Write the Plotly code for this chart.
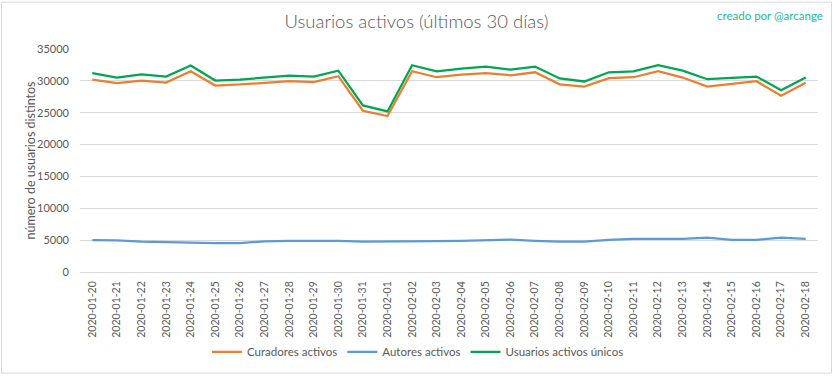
import plotly.graph_objects as go

fechas = [
    "2020-01-20", "2020-01-21", "2020-01-22", "2020-01-23", "2020-01-24", "2020-01-25",
    "2020-01-26", "2020-01-27", "2020-01-28", "2020-01-29", "2020-01-30", "2020-01-31",
    "2020-02-01", "2020-02-02", "2020-02-03", "2020-02-04", "2020-02-05", "2020-02-06",
    "2020-02-07", "2020-02-08", "2020-02-09", "2020-02-10", "2020-02-11", "2020-02-12",
    "2020-02-13", "2020-02-14", "2020-02-15", "2020-02-16", "2020-02-17", "2020-02-18",
]

curadores = [
    30200, 29640, 30050, 29740, 31510, 29270, 29430, 29640, 29950, 29790,
    30730, 25310, 24480, 31510, 30570, 30990, 31200, 30880, 31350, 29450,
    29110, 30420, 30570, 31510, 30520, 29110, 29580, 29950, 27660, 29690,
]

autores = [
    5000, 4950, 4750, 4650, 4550, 4550, 4550, 4800, 4880, 4900,
    4900, 4750, 4750, 4750, 4850, 4900, 5050, 5100, 4900, 4750,
    4750, 5050, 5200, 5200, 5200, 5400, 5050, 5050, 5400, 5200,
]

unicos = [
    31200, 30520, 31000, 30680, 32400, 30050, 30200, 30520, 30830, 30680,
    31600, 26150, 25200, 32450, 31500, 31930, 32240, 31770, 32240, 30380,
    29900, 31350, 31500, 32450, 31600, 30260, 30520, 30680, 28540, 30520,
]

y_ticks = [0, 5000, 10000, 15000, 20000, 25000, 30000, 35000]

FONT = "Lato, Open Sans, sans-serif"
GRAY = "#595959"
GRID = "#D9D9D9"

fig = go.Figure()
fig.add_trace(go.Scatter(x=fechas, y=curadores, mode="lines", name="Curadores activos",
                         line=dict(color="#ED7D31", width=2.25)))
fig.add_trace(go.Scatter(x=fechas, y=autores, mode="lines", name="Autores activos",
                         line=dict(color="#5B9BD5", width=2.25)))
fig.add_trace(go.Scatter(x=fechas, y=unicos, mode="lines", name="Usuarios activos únicos",
                         line=dict(color="#00A650", width=2.25)))

fig.update_layout(
    width=833, height=379,
    margin=dict(l=80, r=15, t=49, b=104),
    paper_bgcolor="white", plot_bgcolor="white",
    font=dict(family=FONT, color=GRAY, size=11),
    title=dict(text="Usuarios activos (últimos 30 días)", x=0.5, xref="container",
               y=1 - 22 / 379, yanchor="middle", xanchor="center",
               font=dict(family=FONT, size=18.5, color=GRAY, weight=300)),
    showlegend=True,
    legend=dict(orientation="h", x=(418 - 80) / 738, xanchor="center",
                y=(275 - 356) / 226, yanchor="middle",
                font=dict(size=11.5, color=GRAY), itemwidth=30,
                traceorder="normal", bgcolor="rgba(0,0,0,0)"),
    xaxis=dict(type="category", range=[-0.5, len(fechas) - 0.5],
               tickangle=-90, tickfont=dict(size=10.5, color=GRAY),
               showgrid=False, showline=True, linecolor=GRID, linewidth=1,
               ticks="", ticklabelstandoff=4),
    yaxis=dict(range=[0, 35000], tickvals=y_ticks, ticktext=[str(v) for v in y_ticks],
               showgrid=True, gridcolor=GRID, gridwidth=1, zeroline=False,
               showline=False, tickfont=dict(size=11, color=GRAY), ticklabelstandoff=10),
    annotations=[
        dict(text="número de usuarios distintos", textangle=-90, xref="paper", yref="paper",
             x=(30 - 80) / 738, y=0.5, xanchor="center", yanchor="middle", showarrow=False,
             font=dict(size=12.5, color=GRAY, family=FONT)),
        dict(text="creado por @arcange", xref="paper", yref="paper",
             x=(825 - 80) / 738, y=(275 - 15) / 226, xanchor="right", yanchor="middle",
             showarrow=False, font=dict(size=11.5, color="#1ABC9C", family=FONT)),
    ],
    shapes=[
        dict(type="rect", xref="paper", yref="paper",
             x0=(1.5 - 80) / 738, x1=(831.5 - 80) / 738,
             y0=(275 - 377.5) / 226, y1=(275 - 1.5) / 226,
             line=dict(color=GRID, width=1), fillcolor="rgba(0,0,0,0)", layer="below"),
    ],
)

fig.write_html(
    "out.html",
    config={"displayModeBar": False},
    post_script="document.body.style.margin='0';document.body.style.overflow='hidden';",
)
